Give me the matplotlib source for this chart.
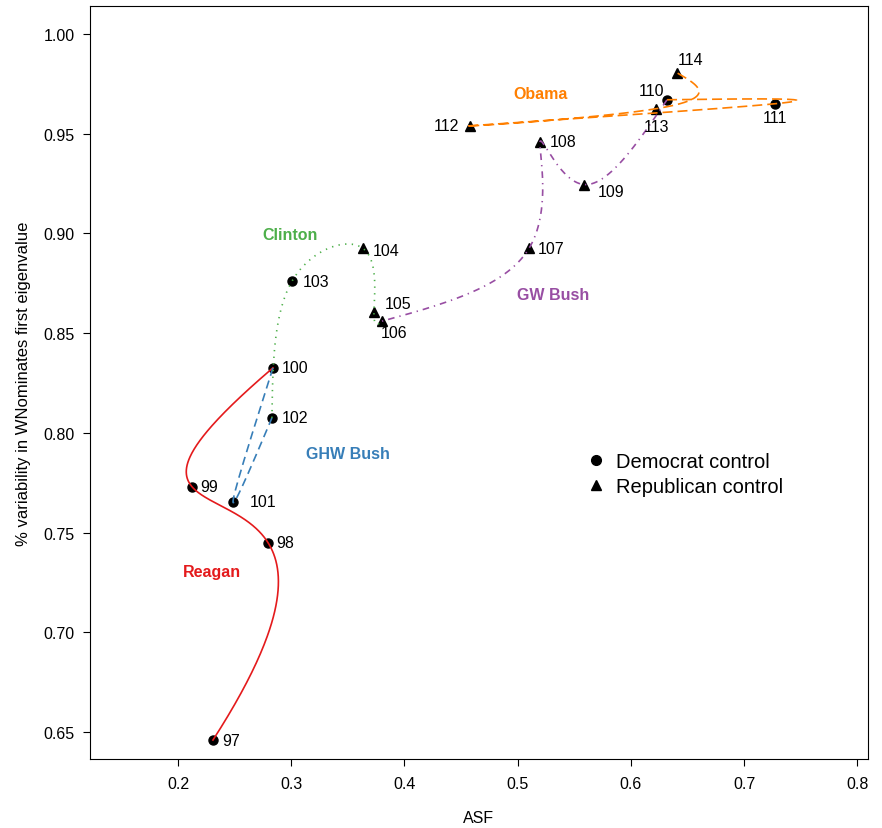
import numpy as np
import matplotlib.pyplot as plt
from matplotlib.lines import Line2D

plt.rcParams['font.family'] = ['Liberation Sans', 'DejaVu Sans']

# Data
congress = [97, 98, 99, 100, 101, 102, 103, 104, 105, 106, 107, 108, 109, 110, 111, 112, 113, 114]
asf = [0.2309, 0.2795, 0.2124, 0.2839, 0.2486, 0.2830, 0.3007, 0.3634, 0.3731, 0.3802,
       0.5101, 0.5198, 0.5587, 0.6320, 0.7274, 0.4580, 0.6223, 0.6408]
variability = [0.646, 0.745, 0.773, 0.8326, 0.7655, 0.8075, 0.876, 0.8925, 0.8605, 0.856,
               0.8925, 0.946, 0.9245, 0.967, 0.965, 0.954, 0.9625, 0.9805]
control = ["D", "D", "D", "D", "D", "D", "D", "R", "R", "R", "R", "R", "R", "D", "D", "R", "R", "R"]

presidents = ["Reagan", "GHW Bush", "Clinton", "GW Bush", "Obama"]
first_congress = [97, 100, 102, 106, 110]
last_congress = [100, 102, 106, 110, 114]
pres_label_x = [0.2296, 0.350, 0.2994, 0.531, 0.5207]
pres_label_y = [0.7305, 0.7895, 0.8995, 0.8695, 0.970]

# styles
colors = ["#E41A1C", "#377EB8", "#4DAF4A", "#984EA3", "#FF7F00"]
dashes = [None, (5, 3), (0.8, 3.2), (0.8, 3, 4, 3), (6, 3)]
spline_ends = ["notaknot", "natural", "natural", "natural", "natural"]
# label offsets in points (dx, dy, ha)
offsets = {97: (6.5, 0, "left"), 98: (6, 0, "left"), 99: (6, 0, "left"), 100: (6.5, 0, "left"),
           101: (12, 0, "left"), 102: (7, 0, "left"), 103: (7.5, 0, "left"), 104: (7, -1.5, "left"),
           105: (8, 6.5, "left"), 106: (8.5, -8.5, "center"), 107: (6.5, 0, "left"),
           108: (7, 0, "left"), 109: (9.5, -5, "left"), 110: (-11, 6.5, "center"),
           111: (0, -10, "center"), 112: (-8, 0, "right"), 113: (0.5, -13, "center"),
           114: (9.5, 9.5, "center")}


def cubic_eval(t, y, tt, ends="natural"):
    # cubic spline through the points (unit knot spacing), solved for second derivatives
    n = len(y)
    y = np.asarray(y, float)
    A = np.zeros((n, n)); r = np.zeros(n)
    if n < 4:
        ends = "natural"
    if ends == "natural":
        A[0, 0] = A[-1, -1] = 1
    else:  # not-a-knot
        A[0, :3] = [1, -2, 1]
        A[-1, -3:] = [1, -2, 1]
    for i in range(1, n - 1):
        A[i, i - 1:i + 2] = [1, 4, 1]
        r[i] = 6 * (y[i + 1] - 2 * y[i] + y[i - 1])
    M = np.linalg.solve(A, r)
    u = tt - t[0]
    i = np.clip(np.floor(u).astype(int), 0, n - 2)
    s = u - i
    return ((1 - s) * y[i] + s * y[i + 1] + ((1 - s) ** 3 - (1 - s)) * M[i] / 6
            + (s ** 3 - s) * M[i + 1] / 6)


fig = plt.figure(figsize=(8.82, 8.29), dpi=100)
ax = fig.add_axes([90 / 882, 69 / 829, 778 / 882, 753 / 829])

cong = np.array(congress)
asf_a = np.array(asf)
var_a = np.array(variability)
ctrl = np.array(control)

# points
ax.plot(asf_a[ctrl == "D"], var_a[ctrl == "D"], "o", color="black", ms=6.5, ls="none", zorder=2)
ax.plot(asf_a[ctrl == "R"], var_a[ctrl == "R"], "^", color="black", ms=7, ls="none", zorder=2)

# smooth path per presidency (parametric spline over congress number)
for name, c0, c1, col, dsh, ends, lx, ly in zip(presidents, first_congress, last_congress, colors,
                                                dashes, spline_ends, pres_label_x, pres_label_y):
    sel = (cong >= c0) & (cong <= c1)
    t = cong[sel].astype(float)
    tt = np.linspace(t[0], t[-1], 400)
    xs = cubic_eval(t, asf_a[sel], tt, ends)
    ys = cubic_eval(t, var_a[sel], tt, ends)
    line, = ax.plot(xs, ys, color=col, lw=1.2, zorder=3)
    if dsh is not None:
        line.set_dashes(dsh)
    ax.text(lx, ly, name, color=col, fontsize=11.5, fontweight="bold", ha="center", va="center")

for cg, xv, yv in zip(congress, asf, variability):
    dx, dy, ha = offsets[cg]
    ax.annotate(str(cg), (xv, yv), xytext=(dx, dy), textcoords="offset points",
                ha=ha, va="center", fontsize=11.5)

handles = [Line2D([], [], marker="o", color="black", ls="none", ms=7),
           Line2D([], [], marker="^", color="black", ls="none", ms=7.5)]
ax.legend(handles, ["Democrat control", "Republican control"], loc="upper left",
          bbox_to_anchor=(0.63, 0.418), frameon=False, fontsize=14.5, handlelength=0.8,
          handletextpad=0.6, labelspacing=0.3, borderaxespad=0)

ax.set_xlim(0.1223, 0.8095)
ax.set_ylim(0.6365, 1.014)
ax.set_xticks([0.2, 0.3, 0.4, 0.5, 0.6, 0.7, 0.8])
ax.set_xticklabels(["0.2", "0.3", "0.4", "0.5", "0.6", "0.7", "0.8"])
yt = [0.65, 0.70, 0.75, 0.80, 0.85, 0.90, 0.95, 1.00]
ax.set_yticks(yt)
ax.set_yticklabels([f"{v:.2f}" for v in yt])
ax.tick_params(direction="out", length=5, width=0.8, labelsize=11.5)
ax.tick_params(axis="x", pad=7)
ax.tick_params(axis="y", pad=6)
for sp in ax.spines.values():
    sp.set_linewidth(0.8)
ax.set_xlabel("ASF", fontsize=11.5, labelpad=14)
ax.set_ylabel("% variability in WNominates first eigenvalue", fontsize=12, labelpad=9)

fig.savefig("out.png", dpi=100)
